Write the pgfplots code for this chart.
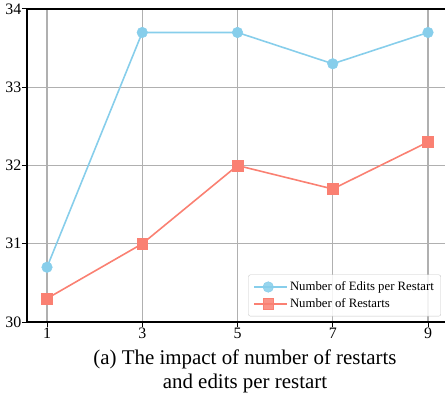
\documentclass[border=0pt]{standalone}
\usepackage{pgfplots}
\pgfplotsset{compat=1.18}
\usetikzlibrary{calc}
\usepackage{fontspec}
\setmainfont{Liberation Serif}
\definecolor{skyb}{RGB}{135,206,235}
\definecolor{salm}{RGB}{250,128,114}
\definecolor{gridg}{RGB}{176,176,176}
\begin{document}
\begin{tikzpicture}
    \begin{axis}[
        scale only axis,
        width=436bp,
        height=313bp,
        xmin=0.58, xmax=9.735,
        ymin=30, ymax=34,
        xtick={1,3,5,7,9},
        ytick={30,31,32,33,34},
        grid=major,
        major grid style={color=gridg, line width=1.5pt},
        axis line style={black, line width=1.5pt},
        tick style={black, line width=1pt},
        tick align=outside,
        major tick length=5bp,
        xtick pos=bottom, ytick pos=left,
        /pgf/number format/assume math mode=true,
        ticklabel style={font=\fontsize{16}{16}\selectfont},
        yticklabel style={inner sep=0.5pt},
        xticklabel style={inner sep=1pt},
        xlabel={(a) The impact of number of restarts\\and edits per restart},
        xlabel style={font=\fontsize{21}{24.5}\selectfont, align=center, yshift=-6bp},
        legend style={font=\fontsize{12.8}{14}\selectfont, draw=gridg!70, fill=white, fill opacity=0.85, text opacity=1, rounded corners=2pt, cells={anchor=west}, row sep=2.5pt, inner xsep=5pt, inner ysep=5pt, at={(0.9495,0.018)}, anchor=south east},
        legend image code/.code={
            \path (0bp,0bp) -- (33bp,0bp);
            \draw[mark repeat=2, mark phase=2, #1] plot coordinates {(0bp,0bp) (14bp,0bp) (28bp,0bp)};
        },
        ]
        \addplot[color=skyb, line width=1.6pt, mark=*, mark size=5.3pt, mark options={fill=skyb, draw=skyb, line width=0.5pt}] coordinates {
            (1, 30.7) (3, 33.7) (5, 33.7) (7, 33.3) (9, 33.7)
        };
        \addlegendentry{Number of Edits per Restart}
        \addplot[color=salm, line width=1.6pt, mark=square*, mark size=5.4pt, mark options={fill=salm, draw=salm, line width=0.5pt}] coordinates {
            (1, 30.3) (3, 31.0) (5, 32.0) (7, 31.7) (9, 32.3)
        };
        \addlegendentry{Number of Restarts}
    \end{axis}
    \pgfresetboundingbox
    \useasboundingbox ($(current axis.south west)+(-27bp,-81bp)$) rectangle ($(current axis.north west)+(418bp,9bp)$);
\end{tikzpicture}
\end{document}
